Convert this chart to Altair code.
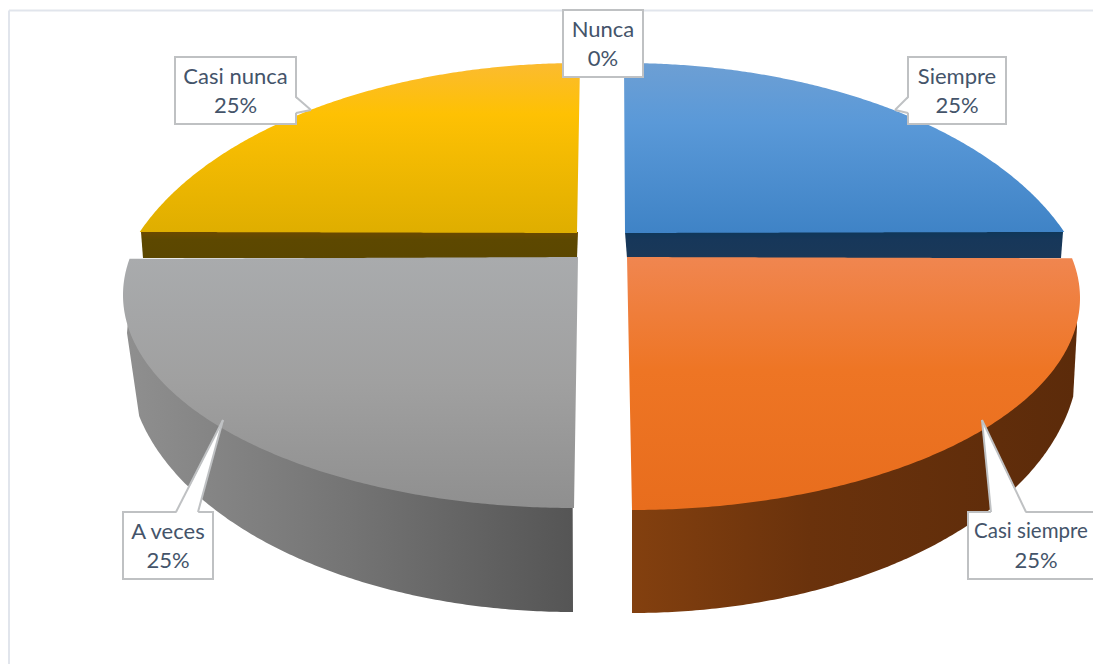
import numpy as np
import pandas as pd
import altair as alt

# ---- values
CATEGORIES = ["Siempre", "Casi siempre", "A veces", "Casi nunca", "Nunca"]
SHARES = [25, 25, 25, 25, 0]
PCT_LABELS = [f"{s}%" for s in SHARES]

# ---- label boxes (left, right, top, bottom) per category, picture units
BOX_L = [908, 968, 123, 175, 563]
BOX_R = [1006, 1107, 213, 296, 643]
BOX_T = [57, 512, 512, 57, 10]
BOX_B = [124, 579, 579, 124, 77]
NAME_X = [957, 1031, 168, 235.5, 603]
PCT_X = [957, 1036, 168, 235.5, 603]
NAME_SIZE = [22, 20.5, 22, 22, 22]

# ---- callout tails: base point 1, base point 2, tip
TAILS = {
    "Siempre": [(908, 97), (908, 113), (895, 110)],
    "Casi siempre": [(991, 512), (1026, 512), (982, 420)],
    "A veces": [(176, 512), (198, 512), (223, 420)],
    "Casi nunca": [(296, 97), (296, 113), (311, 110)],
}

W, H = 1085, 656
XS = alt.Scale(domain=[8, 8 + W], nice=False, zero=False)
YS = alt.Scale(domain=[8, 8 + H], nice=False, zero=False, reverse=True)


def X(f):
    return alt.X(f, type="quantitative", scale=XS, axis=None)


def Y(f):
    return alt.Y(f, type="quantitative", scale=YS, axis=None)


def to_band(pts):
    P = np.array(pts, dtype=float)
    A, B = P, np.roll(P, -1, axis=0)
    rows = []
    for x in np.unique(P[:, 0]):
        lo = np.minimum(A[:, 0], B[:, 0])
        hi = np.maximum(A[:, 0], B[:, 0])
        hit = (lo <= x) & (x <= hi)
        ys = []
        for a, b in zip(A[hit], B[hit]):
            if a[0] == b[0]:
                ys += [a[1], b[1]]
            else:
                ys.append(a[1] + (b[1] - a[1]) * (x - a[0]) / (b[0] - a[0]))
        rows.append({"x": x, "y": min(ys), "y2": max(ys)})
    return pd.DataFrame(rows)


def arc(start_share, end_share, cx, cy, rx, ry, ymin=-1e9, ymax=1e9):
    t = np.linspace(start_share, end_share, 260) / 100 * 2 * np.pi
    x, y = cx + rx * np.sin(t), cy - ry * np.cos(t)
    keep = (y >= ymin) & (y <= ymax)
    return list(zip(x[keep], y[keep]))


def grad(stops, horizontal=False):
    return alt.Gradient(
        gradient="linear",
        stops=[alt.GradientStop(offset=o, color=c) for o, c in stops],
        x1=0, y1=0,
        x2=1 if horizontal else 0,
        y2=0 if horizontal else 1,
    )


def shape(pts, fill):
    return (
        alt.Chart(to_band(pts))
        .mark_area(color=fill, line=False, opacity=1)
        .encode(x=X("x"), y=Y("y"), y2=alt.Y2("y2"))
    )


cum = np.cumsum([0] + SHARES)
s_blue = (cum[0], cum[1])
s_orange = (cum[1], cum[2])
s_gray = (cum[2], cum[3])
s_yellow = (cum[3], cum[4])
LIFT = 12  # the near slices show a little more than their quarter in this view

layers = []

# chart frame
frame = pd.DataFrame({"x": [9, 9], "x2": [9, 1101], "y": [10.5, 10.5], "y2": [664, 10.5]})
layers.append(
    alt.Chart(frame)
    .mark_rule(color="#e1e5ec", strokeWidth=2)
    .encode(x=X("x"), x2="x2", y=Y("y"), y2="y2")
)

# side walls
layers.append(shape(
    [(632, 298)] + arc(s_orange[1], s_orange[0] - LIFT, 632, 355, 447, 258, ymin=395) + [(1077, 327), (1075, 298)],
    grad([(0, "#83400f"), (0.4, "#6a320c"), (1, "#5c2b0a")], horizontal=True),
))
layers.append(shape(
    [(572, 295)] + arc(s_gray[0], s_gray[1] + LIFT, 573, 360, 445, 252, ymin=415) + [(127, 333), (130, 295)],
    grad([(0, "#8f8f8f"), (0.5, "#747474"), (1, "#555555")], horizontal=True),
))

# cut faces of the far slices
layers.append(shape(
    [(625, 232), (1063, 232), (1061, 258), (627, 258)],
    grad([(0, "#0f3759"), (0.3, "#17375a"), (1, "#1a3858")]),
))
layers.append(shape(
    [(141, 232), (578, 232), (577, 258), (143, 258)],
    grad([(0, "#6b4900"), (0.3, "#5d4800"), (1, "#5b4700")]),
))

# slice tops
layers.append(shape(
    [(625, 233), (624, 63)] + arc(s_blue[0], s_blue[1], 624, 323, 470, 260, ymax=233),
    grad([(0, "#6d9fd4"), (0.35, "#5a99d8"), (1, "#3f83c6")]),
))
layers.append(shape(
    [(627, 257), (632, 510)] + arc(s_orange[1], s_orange[0] - LIFT, 632, 298, 448, 212, ymin=257),
    grad([(0, "#f08650"), (0.45, "#ee7524"), (1, "#e86d1d")]),
))
layers.append(shape(
    [(578, 257), (574, 508)] + arc(s_gray[0], s_gray[1] + LIFT, 574, 295, 451, 213, ymin=257),
    grad([(0, "#a9abad"), (0.5, "#a0a0a0"), (1, "#8f8f8f")]),
))
layers.append(shape(
    [(577, 233), (580, 63)] + arc(s_yellow[1], s_yellow[0], 580, 323, 470, 260, ymax=233),
    grad([(0, "#fbbb30"), (0.3, "#fec103"), (1, "#dfae00")]),
))

# label boxes
boxes = pd.DataFrame({
    "name": CATEGORIES, "pct": PCT_LABELS,
    "l": BOX_L, "r": BOX_R, "t": BOX_T, "b": BOX_B,
    "nx": NAME_X, "px": PCT_X, "fs": NAME_SIZE,
})
boxes["cx"] = (boxes.l + boxes.r) / 2
boxes["cy"] = (boxes.t + boxes.b) / 2
boxes["y1"] = boxes.cy - 14
boxes["y2t"] = boxes.cy + 15
layers.append(
    alt.Chart(boxes)
    .mark_rect(fill="#ffffff", stroke="#bfc1c3", strokeWidth=2)
    .encode(x=X("l"), x2="r", y=Y("t"), y2="b")
)

# callout tails
tail_rows = []
for name, (b1, b2, tip) in TAILS.items():
    i = CATEGORIES.index(name)
    ccx, ccy = boxes.cx[i], boxes.cy[i]
    inset = []
    for b in (b1, b2):
        if b[0] in (BOX_L[i], BOX_R[i]):
            inset.append((b[0] + (1.5 if ccx > b[0] else -1.5), b[1]))
        else:
            inset.append((b[0], b[1] + (1.5 if ccy > b[1] else -1.5)))
    layers.append(
        alt.Chart(to_band([inset[0], inset[1], tip]))
        .mark_area(color="#ffffff", opacity=1)
        .encode(x=X("x"), y=Y("y"), y2=alt.Y2("y2"))
    )
    for b in (b1, b2):
        tail_rows.append({"x": b[0], "y": b[1], "x2": tip[0], "y2": tip[1]})
layers.append(
    alt.Chart(pd.DataFrame(tail_rows))
    .mark_rule(color="#bfc1c3", strokeWidth=2)
    .encode(x=X("x"), x2="x2", y=Y("y"), y2="y2")
)

# label text
text_style = dict(font="Lato", color="#44546a", align="center", baseline="middle")
layers.append(
    alt.Chart(boxes).mark_text(**text_style)
    .encode(x=X("nx"), y=Y("y1"), text="name:N", size=alt.Size("fs:Q", scale=None, legend=None))
)
layers.append(
    alt.Chart(boxes).mark_text(fontSize=22, **text_style)
    .encode(x=X("px"), y=Y("y2t"), text="pct:N")
)

chart = (
    alt.layer(*layers)
    .properties(width=W, height=H, padding=0, autosize=alt.AutoSizeParams(type="none"), background="#ffffff")
    .configure_view(stroke=None)
)
chart.save("out.html", embed_options={"renderer": "svg", "actions": False})
